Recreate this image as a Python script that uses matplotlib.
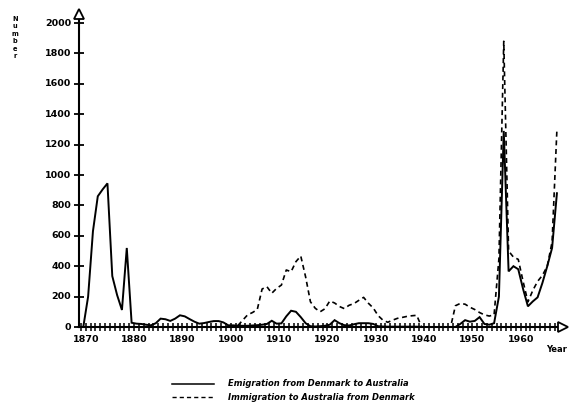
import numpy as np
import matplotlib
matplotlib.use("Agg")
import matplotlib.pyplot as plt
from matplotlib.lines import Line2D

# ---------------- data ----------------
emig_years = list(range(1868, 1968))
emigration = [
    0, 0, 200, 630, 860, 905, 945, 335, 210, 112,          # 1868-1877
    520, 28, 22, 20, 15, 11, 25, 55, 51, 40,               # 1878-1887
    55, 77, 70, 52, 35, 22, 26, 33, 39, 39,                # 1888-1897
    30, 11, 11, 8, 8, 8, 10, 12, 15, 20,                   # 1898-1907
    41, 22, 24, 70, 107, 100, 65, 25, 5, 3,                # 1908-1917
    5, 8, 15, 45, 25, 12, 10, 18, 25, 25,                  # 1918-1927
    25, 20, 5, 3, 2, 2, 2, 2, 2, 2,                        # 1928-1937
    2, 0, 0, 0, 0, 0, 0, 0, 0, 20,                         # 1938-1947
    45, 35, 40, 65, 20, 15, 25, 200, 1290, 366,            # 1948-1957
    400, 380, 250, 136, 168, 195, 290, 400, 520, 880,      # 1958-1967
]

immig_years = list(range(1901, 1968))
immigration = [
    10, 45, 80, 95, 115, 250, 265,                         # 1901-1907
    222, 254, 276, 375, 364, 430, 467, 330, 166, 123,      # 1908-1917
    100, 120, 171, 158, 135, 121, 143, 154, 175, 195,      # 1918-1927
    156, 125, 75, 45, 31, 45, 57, 63, 70, 74,              # 1928-1937
    77, 0, 0, 0, 0, 0, 0, 0, 140, 155,                     # 1938-1947
    150, 130, 115, 95, 80, 72, 80, 450, 1880, 500,         # 1948-1957
    460, 445, 300, 165, 240, 300, 340, 400, 560, 1300,     # 1958-1967
]

x_tick_labels = ["1870", "1880", "1890", "1900", "1910", "1920",
                 "1930", "1940", "1950", "1960"]
y_ticks = [0, 200, 400, 600, 800, 1000, 1200, 1400, 1600, 1800, 2000]
legend_labels = ["Emigration from Denmark to Australia",
                 "Immigration to Australia from Denmark"]
y_title = "Number"
x_title = "Year"

# ---------------- figure geometry ----------------
W, H = 584, 408
X0PX, XS = 85.7, 4.833      # pixel of 1870, pixels per year
Y0PX, YS = 327.0, 0.152     # pixel row of value 0, pixels per unit

def tx(px):
    return 1870 + (px - X0PX) / XS

def vy(py):
    return (Y0PX - py) / YS

fig = plt.figure(figsize=(W / 100, H / 100), dpi=100)
fig.patch.set_facecolor("white")
ax = fig.add_axes([0, 0, 1, 1])
ax.set_xlim(tx(0), tx(W))
ax.set_ylim(vy(H), vy(0))
ax.axis("off")

ink = "black"

# data lines (mid-year positions)
ex = np.array(emig_years) + 0.5
ix = np.array(immig_years) + 0.5
ax.plot(ex, emigration, color=ink, lw=1.4, solid_joinstyle="miter", zorder=4)
ax.plot(ix, immigration, color=ink, lw=1.2, dashes=(3, 2.2), zorder=4)

# axes
x_axis_left = tx(79)
ax.plot([x_axis_left, x_axis_left], [0, vy(17)], color=ink, lw=1.5, zorder=3)
ax.plot([x_axis_left, tx(559)], [0, 0], color=ink, lw=1.5, zorder=3)
ax.plot([x_axis_left], [vy(13.5)], marker="^", ms=6.5, mfc="white", mec=ink,
        mew=1.3, zorder=5)
ax.plot([tx(562.5)], [0], marker=">", ms=6.5, mfc="white", mec=ink,
        mew=1.3, zorder=5)

# x ticks: a cross at every year
tick_years = np.arange(1869, 1968)
ax.plot(tick_years, np.zeros_like(tick_years), ls="none", marker="|",
        ms=5.5, mew=1.1, color=ink, zorder=3)
# y ticks
ax.plot([x_axis_left] * len(y_ticks), y_ticks, ls="none", marker="_",
        ms=6.5, mew=1.3, color=ink, zorder=3)

tick_font = dict(fontsize=6.8, fontweight="bold", family="DejaVu Sans",
                 color=ink)
for v in y_ticks:
    ax.text(tx(71), v, str(v), ha="right", va="center", **tick_font)
for lab in x_tick_labels:
    ax.text(int(lab), vy(339), lab, ha="center", va="center", **tick_font)

ax.text(tx(557), vy(349), x_title, ha="center", va="center",
        fontsize=6, fontweight="bold", color=ink)
for i, ch in enumerate(y_title):
    ax.text(tx(15), vy(19 + 7.4 * i), ch, ha="center", va="center",
            fontsize=4.8, fontweight="bold", color=ink)

# legend (drawn below the plot)
def fx(px):
    return px / W

def fy(py):
    return 1 - py / H

fig.add_artist(Line2D([fx(172), fx(214)], [fy(384), fy(384)], color=ink,
                      lw=1.1))
fig.add_artist(Line2D([fx(172), fx(214)], [fy(397), fy(397)], color=ink,
                      lw=1.0, dashes=(3, 2.2)))
leg_font = dict(fontsize=6.0, fontweight="bold", style="italic",
                family="DejaVu Sans", color=ink, va="center", ha="left")
fig.text(fx(228), fy(384), legend_labels[0], **leg_font)
fig.text(fx(228), fy(397), legend_labels[1], **leg_font)

fig.savefig("out.png", dpi=100, facecolor="white")
